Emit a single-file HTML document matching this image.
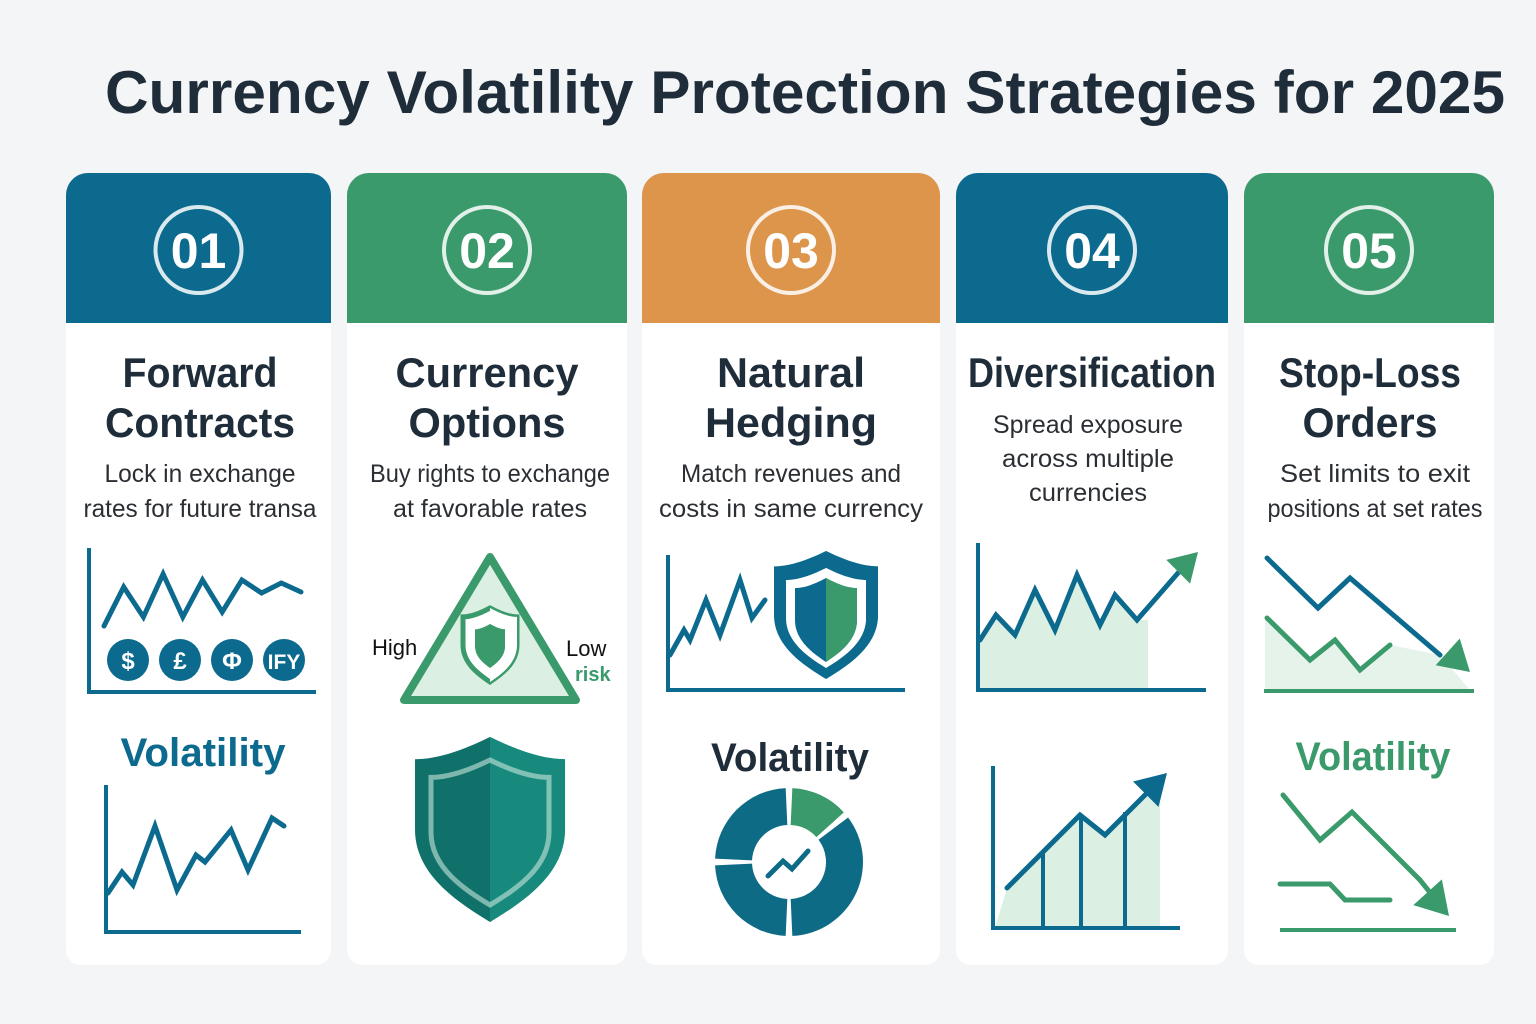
<!DOCTYPE html>
<html><head><meta charset="utf-8">
<style>
html,body{margin:0;padding:0;background:#f4f5f6;}
svg{display:block;font-family:"Liberation Sans",sans-serif;}
</style></head>
<body>
<svg id="main" width="1536" height="1024" viewBox="0 0 1536 1024">
<rect x="0" y="0" width="1536" height="1024" fill="#f4f5f6"/>
<text x="805" y="113" text-anchor="middle" font-size="60" font-weight="bold" fill="#1f2d3a" textLength="1400" lengthAdjust="spacingAndGlyphs">Currency Volatility Protection Strategies for 2025</text>
<g id="cards"></g>
<g id="icons"></g>
</svg>
<script>
const NS="http://www.w3.org/2000/svg";
const BLUE="#0b6a8e",GREEN="#3b9a6b",ORANGE="#dd954c",DARK="#1f2d3a",LIGHT="#dcefe3",TEAL="#0f7169";
// card data
const cardNumbers=["01","02","03","04","05"];
const cardTitles=[["Forward","Contracts"],["Currency","Options"],["Natural","Hedging"],["Diversification"],["Stop-Loss","Orders"]];
const cardDescs=[["Lock in exchange","rates for future transa"],["Buy rights to exchange","at favorable rates"],["Match revenues and","costs in same currency"],["Spread exposure","across multiple","currencies"],["Set limits to exit","positions at set rates"]];
const titleLens=[[155,190],[183,157],[148,172],[248],[182,135]];
const descLens=[[191,233],[240,194],[220,264],[190,172,118],[190,215]];
const cardColors=[BLUE,GREEN,ORANGE,BLUE,GREEN];
// chart value arrays (x,y in icon-local units)
const c1TopX=[0,1,2,3,4,5,6,7,8,9,10];
const c1TopY=[66,105,75,118,75,112,80,112,99,109,100];
const c1BotX=[0,14,25,47,69,88,97,123,140,164,176];
const c1BotY=[39,60,47,106,42,77,70,102,62,114,106];
const c3X=[0,14,20,36,50,70,82,95];
const c3Y=[35,60,50,90,55,110,72,90];
const c4TopX=[0,16,35,55,75,97,120,135,157,205];
const c4TopY=[50,75,55,100,60,115,65,95,70,125];
const c4BotX=[0,73,98,153];
const c4BotY=[40,113,93,148];
const c5BlueX=[0,51,83,173];
const c5BlueY=[132,82,112,35];
const c5GreenX=[0,43,68,93,123];
const c5GreenY=[72,30,50,20,45];
const c5LBlueX=[0,37,69,137];
const c5LBlueY=[135,90,118,50];
const c5LGreenX=[0,50,65,110];
const c5LGreenY=[46,46,30,30];
const donutVals=[14,36,25,25];
const coinLabels=["$","£","Φ","IFY"];

const cards=document.getElementById('cards'),icons=document.getElementById('icons');
function el(tag,attrs,parent,txt){const e=document.createElementNS(NS,tag);for(const k in attrs)e.setAttribute(k,attrs[k]);if(txt!==undefined)e.textContent=txt;(parent||icons).appendChild(e);return e;}
const colX=[66,347,642,956,1244],colW=[265,280,298,272,250];
const titleCx=[200,487,791,1092,1370],descCx=[200,490,791,1088,1375];
for(let i=0;i<5;i++){
  const g=el('g',{},cards);
  
  
  const x=colX[i],w=colW[i];
  const b=el('path',{d:`M${x} 323 V195 a22 22 0 0 1 22 -22 H${x+w-22} a22 22 0 0 1 22 22 V323 Z`,fill:cardColors[i]},g);
  
  
  const body=el('path',{d:`M${x} 323 H${x+w} V950 a15 15 0 0 1 -15 15 H${x+15} a15 15 0 0 1 -15 -15 Z`,fill:"#ffffff"},g);
  
  
  const cx=x+w/2;
  const c=el('circle',{cx:cx,cy:250,r:43,fill:"none",stroke:"rgba(255,255,255,0.85)","stroke-width":4},g);
  
  
  const n=el('text',{x:cx,y:268,"text-anchor":"middle","font-size":50,"font-weight":"bold",fill:"#fff"},g,cardNumbers[i]);
  
  
  cardTitles[i].forEach((t,j)=>{
    const tt=el('text',{x:titleCx[i],y:387+j*50,"text-anchor":"middle","font-size":42,"font-weight":"bold",fill:DARK,textLength:titleLens[i][j],lengthAdjust:"spacingAndGlyphs"},g,t);
    
    
  });
  cardDescs[i].forEach((t,j)=>{
    const dy=i===3?433+j*34:482+j*35;
    const d=el('text',{x:descCx[i],y:dy,"text-anchor":"middle","font-size":25,fill:"#2b2f33",textLength:descLens[i][j],lengthAdjust:"spacingAndGlyphs"},g,t);
    
    
  });
}
function pts(xs,ys,x0,sx,y0,sy){return xs.map((v,i)=>(x0+v*sx)+","+(y0-ys[i]*sy)).join(" ");}
function line(p,color,w,name){const e=el('polyline',{points:p,fill:"none",stroke:color,"stroke-width":w,"stroke-linejoin":"miter","stroke-linecap":"round"});return e;}
function axes(x,yt,yb,xr,color,name){const e=el('path',{d:`M${x} ${yt} V${yb} H${xr}`,fill:"none",stroke:color,"stroke-width":4});}
function label(x,y,t,size,color,name,len){const e=el('text',{x:x,y:y,"text-anchor":"middle","font-size":size,"font-weight":"bold",fill:color},icons,t);if(len){e.setAttribute('textLength',len);e.setAttribute('lengthAdjust','spacingAndGlyphs');}return e;}
function arrowHead(x,y,ang,color,size,name){const a=ang*Math.PI/180,s=size;const p=[[x,y],[x-s*Math.cos(a)+s*0.6*Math.sin(a),y-s*Math.sin(a)-s*0.6*Math.cos(a)],[x-s*Math.cos(a)-s*0.6*Math.sin(a),y-s*Math.sin(a)+s*0.6*Math.cos(a)]];const e=el('polygon',{points:p.map(q=>q.join(",")).join(" "),fill:color});}
function shield(cx,top,w,h,name,fillL,fillR,stroke,sw){
  const g=el('g',{});
  const d=`M${cx} ${top} C${cx-w*0.25} ${top+h*0.1} ${cx-w*0.4} ${top+h*0.12} ${cx-w/2} ${top+h*0.12} V${top+h*0.5} C${cx-w/2} ${top+h*0.75} ${cx-w*0.2} ${top+h*0.9} ${cx} ${top+h} C${cx+w*0.2} ${top+h*0.9} ${cx+w/2} ${top+h*0.75} ${cx+w/2} ${top+h*0.5} V${top+h*0.12} C${cx+w*0.4} ${top+h*0.12} ${cx+w*0.25} ${top+h*0.1} ${cx} ${top} Z`;
  el('path',{d:d,fill:fillL,stroke:stroke,"stroke-width":sw},g);
  const cpath=el('clipPath',{id:name+'-c'},g);
  el('rect',{x:cx,y:top,width:w,height:h},cpath);
  el('path',{d:d,fill:fillR,"clip-path":`url(#${name}-c)`},g);
  return {g,d};
}
// Column 1 top
axes(89,548,692,316,BLUE,'chart-axes');
line(pts(c1TopX,c1TopY,104,19.7,692,1),BLUE,5,'volatility-line');
coinLabels.forEach((t,i)=>{const cx=128+i*52;const c=el('circle',{cx:cx,cy:660,r:21,fill:BLUE});label(cx,669,t,t.length>1?21:24,'#fff','coin-label');});
label(203,766,'Volatility',40,BLUE,'volatility-label',165);
// Column 1 bottom
axes(106,785,932,301,BLUE,'chart-axes');
line(pts(c1BotX,c1BotY,108,1,932,1),BLUE,5,'volatility-line');
// Column 2
const tri=el('path',{d:"M490 557 L404 700 H576 Z",fill:LIGHT,stroke:GREEN,"stroke-width":8,"stroke-linejoin":"round"});
shield(490,608,54,74,'small-shield',"#fff","#fff",GREEN,5);
shield(490,624,30,44,'small-shield-inner',GREEN,GREEN,GREEN,0);
const hl=el('text',{x:372,y:655,"font-size":22,fill:"#111"},icons,'High');
const ll=el('text',{x:566,y:656,"font-size":22,fill:"#111"},icons,'Low');
const rl=el('text',{x:575,y:681,"font-size":20,"font-weight":"bold",fill:GREEN},icons,'risk');
shield(490,737,150,185,'big-shield',TEAL,"#188a7d","none",0);
shield(490,760,118,145,'big-shield-outline',"none","none","rgba(200,230,220,0.6)",5);
// Column 3
axes(668,555,690,905,BLUE,'chart-axes');
line(pts(c3X,c3Y,670,1,690,1),BLUE,5,'volatility-line');
shield(826,551,104,128,'hedge-shield',BLUE,BLUE,"none",0);
shield(826,568,80,100,'hedge-shield-ring',"#fff","#fff","none",0);
shield(826,578,62,84,'hedge-shield-inner',BLUE,GREEN,"none",0);
label(790,771,'Volatility',40,DARK,'volatility-label',158);
(function(){const cx=789,cy=862,R=74,r=37;const total=donutVals.reduce((a,b)=>a+b,0);let acc=0;const gap=0.045;
donutVals.forEach((v,i)=>{const a0=acc/total*2*Math.PI+gap,a1=(acc+v)/total*2*Math.PI-gap;acc+=v;
const P=(rad,a)=>[cx+rad*Math.sin(a),cy-rad*Math.cos(a)];const large=(a1-a0)>Math.PI?1:0;
const [x1,y1]=P(R,a0),[x2,y2]=P(R,a1),[x3,y3]=P(r,a1),[x4,y4]=P(r,a0);
const e=el('path',{d:`M${x1} ${y1} A${R} ${R} 0 ${large} 1 ${x2} ${y2} L${x3} ${y3} A${r} ${r} 0 ${large} 0 ${x4} ${y4} Z`,fill:i===0?GREEN:"#0d6b86"});
});
line(`${cx-21},${cy+14} ${cx-6},${cy-1} ${cx+3},${cy+7} ${cx+19},${cy-11}`,"#0d6b86",5,'donut-trend');})();
// Column 4 top
const f4=el('polygon',{points:"980,690 "+pts(c4TopX,c4TopY,980,1,690,1).split(" ").slice(0,9).join(" ")+" 1148,620 1148,690",fill:LIGHT});
axes(978,543,690,1206,BLUE,'chart-axes');
line(pts(c4TopX,c4TopY,980,1,690,1),BLUE,5,'trend-line');
arrowHead(1198,552,-45,GREEN,28,'trend-arrow');
// Column 4 bottom
const f4b=el('polygon',{points:"995,928 "+pts(c4BotX,c4BotY,1007,1,928,1)+" 1160,928",fill:LIGHT});
[1043,1081,1125].forEach(x=>{const b=el('line',{x1:x,y1:928,x2:x,y2:x<1080?852:(x<1100?818:812),stroke:BLUE,"stroke-width":4});});
axes(993,766,928,1180,BLUE,'chart-axes');
line(pts(c4BotX,c4BotY,1007,1,928,1),BLUE,5,'trend-line');
arrowHead(1167,773,-45,BLUE,30,'trend-arrow');
// Column 5 top
const f5=el('polygon',{points:"1265,690 1265,620 1310,660 1335,640 1360,670 1390,645 1440,655 1470,690",fill:"#e6f3ea"});
line(pts(c5BlueX,c5BlueY,1267,1,690,1),BLUE,5,'stop-loss-line');
line(pts(c5GreenX,c5GreenY,1267,1,690,1),GREEN,5,'price-line');
arrowHead(1470,672,42,GREEN,30,'down-arrow');
const b5=el('line',{x1:1264,y1:691,x2:1474,y2:691,stroke:GREEN,"stroke-width":4});
label(1373,770,'Volatility',40,GREEN,'volatility-label',155);
// Column 5 bottom
line(pts(c5LBlueX,c5LBlueY,1283,1,930,1),GREEN,5,'stop-loss-line');
line(pts(c5LGreenX,c5LGreenY,1280,1,930,1),GREEN,5,'price-line');
line("1420,880 1440,905","#3b9a6b",5,'arrow-shaft');
arrowHead(1449,916,48,GREEN,32,'down-arrow');
const b5b=el('line',{x1:1280,y1:930,x2:1456,y2:930,stroke:GREEN,"stroke-width":4});
</script>
</body></html>
